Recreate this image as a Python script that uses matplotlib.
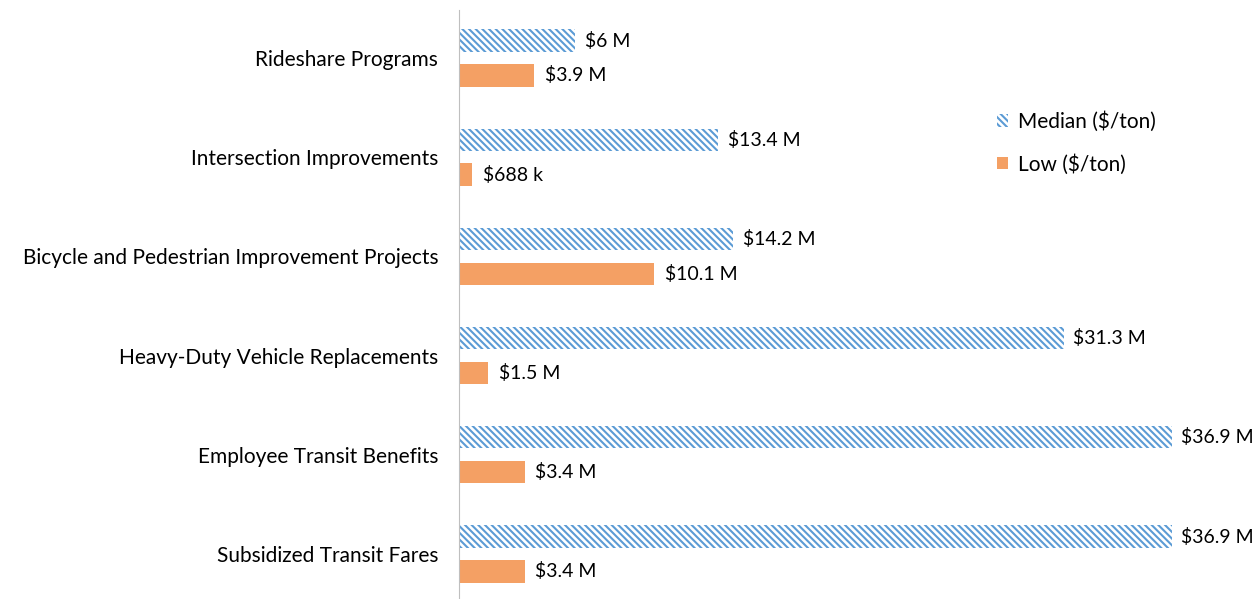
import matplotlib
matplotlib.use("Agg")
import matplotlib.pyplot as plt
import numpy as np

categories = ["Rideshare Programs", "Intersection Improvements",
              "Bicycle and Pedestrian Improvement Projects",
              "Heavy-Duty Vehicle Replacements", "Employee Transit Benefits",
              "Subsidized Transit Fares"]
median = [6.0, 13.4, 14.2, 31.3, 36.9, 36.9]
low = [3.9, 0.688, 10.1, 1.5, 3.4, 3.4]
median_labels = ["$6 M", "$13.4 M", "$14.2 M", "$31.3 M", "$36.9 M", "$36.9 M"]
low_labels = ["$3.9 M", "$688 k", "$10.1 M", "$1.5 M", "$3.4 M", "$3.4 M"]

plt.rcParams['font.family'] = ['Lato', 'DejaVu Sans']
plt.rcParams['hatch.linewidth'] = 1.5

blue = '#5B9BD5'
orange = '#F4A064'

fig = plt.figure(figsize=(12.55, 5.99), dpi=100)
ax = fig.add_axes([459/1255, 0, 792/1255, 589/599])

y = np.arange(len(categories))
off = 0.176
h = 0.225
ax.barh(y - off, median, height=h, facecolor='white', edgecolor=blue,
        hatch='\\\\\\\\\\', linewidth=0, label='Median ($/ton)')
ax.barh(y + off, low, height=h, color=orange, label='Low ($/ton)')

for yi, v, t in zip(y, median, median_labels):
    ax.text(v + 0.5, yi - off, t.replace('$', r'\$'), va='center', ha='left', fontsize=14)
for yi, v, t in zip(y, low, low_labels):
    ax.text(v + 0.55, yi + off, t.replace('$', r'\$'), va='center', ha='left', fontsize=14)

ax.set_xlim(0, 41)
ax.set_ylim(5.454, -0.484)
ax.set_yticks(y)
ax.set_yticklabels(categories, fontsize=15)
ax.tick_params(axis='y', length=0, pad=15)
ax.set_xticks([])
for s in ['top', 'right', 'bottom']:
    ax.spines[s].set_visible(False)
ax.spines['left'].set_color('#BFBFBF')

leg = ax.legend(loc='upper left', bbox_to_anchor=(0.655, 0.86), frameon=False,
                fontsize=15, handlelength=0.55, handleheight=0.55,
                handletextpad=0.5, labelspacing=1.05)

fig.savefig('out.png', dpi=100)
